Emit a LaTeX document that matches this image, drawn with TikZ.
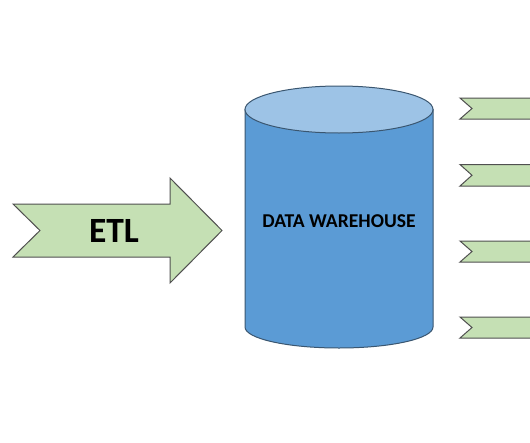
\documentclass[tikz,border=0pt]{standalone}
\usepackage{fontspec}
\setmainfont{Carlito}
\definecolor{chevfill}{HTML}{C5E0B4}
\definecolor{chevline}{HTML}{505050}
\definecolor{cylbody}{HTML}{5B9BD5}
\definecolor{cyltop}{HTML}{9DC3E6}
\definecolor{cylline}{HTML}{3A5670}
\tikzset{
  chevron/.style={fill=chevfill,draw=chevline,line width=1pt,line join=miter},
  cylshape/.style={draw=cylline,line width=1pt},
  label/.style={inner sep=0pt,font=\bfseries}
}
\begin{document}
\begin{tikzpicture}[x=1pt,y=-1pt]
\clip (0,0) rectangle (530,442);
\fill[white] (0,0) rectangle (530,442);
% ETL arrow
\draw[chevron] (13,204) -- (170,204) -- (170,178) -- (222,230.5) -- (170,283) -- (170,257) -- (13,257) -- (40,230.5) -- cycle;
\node[label,font=\fontsize{35.5}{35.5}\bfseries\selectfont] (etl) at (114,230.5) {ETL};
% cylinder
\draw[cylshape,fill=cylbody] (245,109.5) -- (245,327) arc[start angle=180,end angle=0,x radius=94,y radius=21] -- (433,109.5) -- cycle;
\draw[cylshape,fill=cyltop] (339,109.5) ellipse[x radius=94,y radius=23.5];
\node[label,font=\fontsize{19.6}{19.6}\bfseries\selectfont] (dw) at (339,221.5) {DATA WAREHOUSE};
% right chevrons
\foreach \t/\b [count=\i] in {98/119,164.5/186,241/262,317/338}{
  \draw[chevron] (460,\t) -- (540,\t) -- (540,\b) -- (460,\b) -- (472,{(\t+\b)/2}) -- cycle;
}
\end{tikzpicture}
\end{document}
